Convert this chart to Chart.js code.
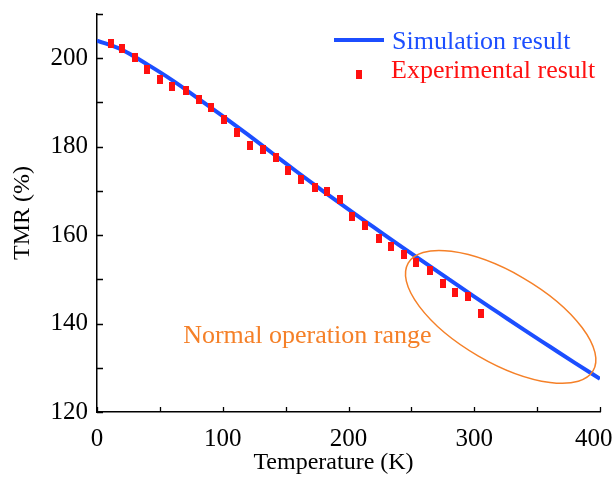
<!DOCTYPE html>
<html>
<head>
<meta charset="utf-8">
<script src="https://cdn.jsdelivr.net/npm/chart.js@4"></script>
<style>
  html, body { margin: 0; padding: 0; background: #fff; }
  #wrap { width: 616px; height: 491px; }
</style>
</head>
<body>
<div id="wrap"><canvas id="chart" width="616" height="491"></canvas></div>
<script>
// simulation curve (K, %)
const simTemp = [0, 20, 40, 60, 80, 100, 120, 140, 160, 180, 200, 220, 240, 260, 280, 300, 320, 340, 360, 380, 400];
const simTmr  = [204.0, 201.9, 198.6, 195.0, 191.0, 186.9, 182.7, 178.4, 174.1, 169.9, 165.8, 161.8, 157.8, 153.9, 150.0, 146.1, 142.3, 138.5, 134.8, 131.1, 127.5];

// measured points
const expTemp = [11, 20, 30, 40, 50, 60, 71, 81, 91, 101, 111, 122, 132, 142, 152, 162, 173, 183, 193, 203, 213, 224, 234, 244, 254, 265, 275, 285, 295, 305];
const expTmr  = [203.3, 202.1, 200.2, 197.4, 195.2, 193.6, 192.7, 190.7, 188.8, 186.1, 183.1, 180.3, 179.4, 177.5, 174.6, 172.6, 170.8, 169.9, 168.1, 164.2, 162.2, 159.3, 157.5, 155.6, 153.7, 151.9, 149.0, 147.0, 146.1, 142.2];

const xLabels = [0, 100, 200, 300, 400];
const yLabels = [120, 140, 160, 180, 200];

// "Normal operation range" ellipse centre and label anchor, in data units
const rangeCentre = [321, 141.5];
const rangeLabel = [68.5, 135.5];

const FONT = "'Liberation Serif', 'Times New Roman', serif";
const BLUE = 'rgb(28, 78, 255)';
const RED = 'rgb(255, 16, 16)';
const ORANGE = 'rgb(245, 128, 40)';

// tall red rectangle used as point marker
const mark = document.createElement('canvas');
mark.width = 6; mark.height = 9;
const mctx = mark.getContext('2d');
mctx.fillStyle = RED;
mctx.fillRect(0, 0, 6, 9);

const extras = {
  id: 'extras',
  afterDatasetsDraw(chart) {
    const {ctx, chartArea: a, scales: {x, y}} = chart;
    ctx.save();

    // inward ticks
    ctx.strokeStyle = '#000';
    ctx.lineWidth = 1.3;
    ctx.beginPath();
    y.ticks.forEach(t => {
      const py = Math.round(y.getPixelForValue(t.value)) + 0.5;
      ctx.moveTo(a.left, py); ctx.lineTo(a.left + 6, py);
    });
    x.ticks.forEach(t => {
      const px = Math.round(x.getPixelForValue(t.value)) + 0.5;
      ctx.moveTo(px, a.bottom); ctx.lineTo(px, a.bottom - 5);
    });
    ctx.stroke();

    // x axis title, sits a bit left of centre in the original
    ctx.fillStyle = '#000';
    ctx.font = '24px ' + FONT;
    ctx.textAlign = 'center';
    ctx.textBaseline = 'middle';
    ctx.fillText('Temperature (K)', (a.left + a.right) / 2 - 15, 463);

    // ellipse
    ctx.strokeStyle = ORANGE;
    ctx.lineWidth = 1.5;
    ctx.beginPath();
    ctx.ellipse(x.getPixelForValue(rangeCentre[0]), y.getPixelForValue(rangeCentre[1]),
      107, 45, 30.2 * Math.PI / 180, 0, Math.PI * 2);
    ctx.stroke();

    ctx.fillStyle = ORANGE;
    ctx.font = '26px ' + FONT;
    ctx.textBaseline = 'alphabetic';
    ctx.textAlign = 'left';
    ctx.fillText('Normal operation range', x.getPixelForValue(rangeLabel[0]), y.getPixelForValue(rangeLabel[1]));

    // legend
    ctx.strokeStyle = BLUE;
    ctx.lineWidth = 4;
    ctx.beginPath();
    ctx.moveTo(a.right - 266, 40); ctx.lineTo(a.right - 216, 40);
    ctx.stroke();
    ctx.drawImage(mark, a.right - 244, 70);
    ctx.font = '26px ' + FONT;
    ctx.fillStyle = BLUE;
    ctx.fillText('Simulation result', a.right - 208, 49);
    ctx.fillStyle = RED;
    ctx.fillText('Experimental result', a.right - 209, 78);
    ctx.restore();
  }
};

new Chart(document.getElementById('chart'), {
  type: 'scatter',
  data: {
    datasets: [
      {
        label: 'Experimental result',
        data: expTemp.map((t, i) => ({x: t, y: expTmr[i]})),
        pointStyle: mark,
        pointRadius: 5,
        order: 0
      },
      {
        label: 'Simulation result',
        data: simTemp.map((t, i) => ({x: t, y: simTmr[i]})),
        showLine: true,
        borderColor: BLUE,
        borderWidth: 4,
        pointRadius: 0,
        cubicInterpolationMode: 'monotone',
        order: 1
      }
    ]
  },
  options: {
    responsive: false,
    animation: false,
    layout: { padding: { top: 14, right: 16, left: 0, bottom: 0 } },
    plugins: { legend: { display: false }, tooltip: { enabled: false } },
    scales: {
      x: {
        type: 'linear',
        min: 0, max: 400,
        grid: { display: true, drawOnChartArea: false, drawTicks: false },
        border: { display: true, color: '#000', width: 1.5 },
        ticks: {
          stepSize: 50,
          padding: 12,
          maxRotation: 0,
          color: '#000',
          font: { family: FONT, size: 25 },
          // last label is pulled in slightly so it stays inside the canvas
          callback: v => xLabels.includes(v) ? (v === 400 ? '400  ' : String(v)) : ''
        },
        afterFit(s) { s.height = 79; s.paddingLeft = 0; s.paddingRight = 0; }
      },
      y: {
        min: 120, max: 210,
        grid: { display: true, drawOnChartArea: false, drawTicks: false },
        border: { display: true, color: '#000', width: 1.5 },
        ticks: {
          stepSize: 10,
          padding: 9,
          color: '#000',
          font: { family: FONT, size: 25 },
          callback: v => yLabels.includes(v) ? String(v) : ''
        },
        title: {
          display: true,
          text: 'TMR (%)',
          color: '#000',
          font: { family: FONT, size: 24 },
          padding: { top: 8, bottom: 0 }
        },
        afterFit(s) { s.width = 97; s.paddingTop = 0; s.paddingBottom = 0; }
      }
    }
  },
  plugins: [extras]
});
</script>
</body>
</html>
